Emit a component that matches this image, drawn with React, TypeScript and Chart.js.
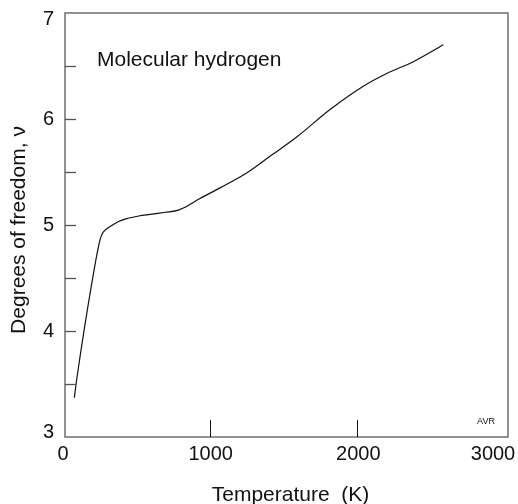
import React, { useEffect, useRef } from "react";
import { Chart, registerables } from "chart.js";

Chart.register(...registerables);

const temperatureK = [63, 79, 185, 237, 253, 275, 305, 360, 418, 500, 576, 680, 756, 801, 914, 1050, 1230, 1400, 1569, 1795, 2020, 2179, 2359, 2562];
const degreesOfFreedom = [3.37, 3.54, 4.48, 4.86, 4.92, 4.955, 4.985, 5.03, 5.06, 5.085, 5.10, 5.12, 5.135, 5.16, 5.25, 5.35, 5.49, 5.66, 5.83, 6.09, 6.31, 6.43, 6.54, 6.70];

const xTickValues = [0, 1000, 2000, 3000];
const xTickLabels = ["0", "1000", "2000", "3000"];
const xInnerTicks = [1000, 2000];
const yTickValues = [3, 4, 5, 6, 7];
const yInnerTicks = [3.5, 4, 4.5, 5, 5.5, 6, 6.5];

const xTitle = "Temperature  (K)";
const yTitle = "Degrees of freedom, ν";
const noteText = "Molecular hydrogen";
const creditText = "AVR";

const FONT = '"Liberation Sans", Arial, Helvetica, sans-serif';

const framePlugin = {
  id: "frame",
  afterDatasetsDraw(chart: any) {
    const { ctx, chartArea, scales } = chart;
    const { left, right, top, bottom } = chartArea;
    const xs = scales.x;
    const ys = scales.y;
    ctx.save();
    // box
    ctx.strokeStyle = "#6e6e6e";
    ctx.lineWidth = 1.5;
    ctx.strokeRect(left, top, right - left, bottom - top);
    // y ticks (inward)
    ctx.strokeStyle = "#555";
    ctx.lineWidth = 1.3;
    yInnerTicks.forEach((v) => {
      const y = Math.round(ys.getPixelForValue(v)) + 0.5;
      ctx.beginPath();
      ctx.moveTo(left, y);
      ctx.lineTo(left + 11, y);
      ctx.stroke();
    });
    // x ticks (inward)
    ctx.strokeStyle = "#111";
    ctx.lineWidth = 1;
    xInnerTicks.forEach((v) => {
      const x = Math.round(xs.getPixelForValue(v)) - 2.5;
      ctx.beginPath();
      ctx.moveTo(x, bottom);
      ctx.lineTo(x, bottom - 17);
      ctx.stroke();
    });
    // tick labels
    ctx.fillStyle = "#111";
    ctx.font = `20px ${FONT}`;
    ctx.textBaseline = "middle";
    ctx.textAlign = "right";
    yTickValues.forEach((v) => {
      let y = ys.getPixelForValue(v);
      if (v === 7) y += 6;
      if (v === 3) y -= 5;
      ctx.fillText(String(v), left - 11, y);
    });
    ctx.textAlign = "center";
    xTickValues.forEach((v, i) => {
      let x = xs.getPixelForValue(v);
      if (i === 0) x -= 2;
      else x -= 2;
      if (i === xTickValues.length - 1) x = Math.min(x, chart.width - 25);
      ctx.fillText(xTickLabels[i], x, bottom + 17);
    });
    // axis titles
    ctx.font = `21px ${FONT}`;
    ctx.fillText(xTitle, (left + right) / 2 + 4, 495);
    ctx.save();
    ctx.translate(19, 230);
    ctx.rotate(-Math.PI / 2);
    ctx.fillText(yTitle, 0, 0);
    ctx.restore();
    // annotation
    ctx.textAlign = "left";
    ctx.font = `21px ${FONT}`;
    ctx.fillText(noteText, 97, 60);
    ctx.font = `9px ${FONT}`;
    ctx.textAlign = "center";
    ctx.fillText(creditText, 486, 422);
    ctx.restore();
  },
};

export default function App() {
  const canvasRef = useRef<HTMLCanvasElement | null>(null);

  useEffect(() => {
    document.body.style.margin = "0";
    const canvas = canvasRef.current;
    if (!canvas) return;
    const points = temperatureK.map((t, i) => ({ x: t, y: degreesOfFreedom[i] }));
    const chart = new Chart(canvas, {
      type: "line",
      data: {
        datasets: [
          {
            label: "Molecular hydrogen",
            data: points,
            borderColor: "#111",
            borderWidth: 1.2,
            pointRadius: 0,
            fill: false,
            cubicInterpolationMode: "monotone",
          },
        ],
      },
      options: {
        responsive: false,
        animation: false,
        layout: { padding: { left: 65, top: 13, right: 10, bottom: 67 } },
        plugins: { legend: { display: false }, tooltip: { enabled: false } },
        scales: {
          x: { type: "linear", min: 0, max: 3000, display: false },
          y: { type: "linear", min: 3, max: 7, display: false },
        },
      },
      plugins: [framePlugin],
    });
    return () => chart.destroy();
  }, []);

  return (
    <div style={{ width: 518, height: 504, background: "#fff" }}>
      <canvas ref={canvasRef} width={518} height={504} style={{ display: "block" }} />
    </div>
  );
}
